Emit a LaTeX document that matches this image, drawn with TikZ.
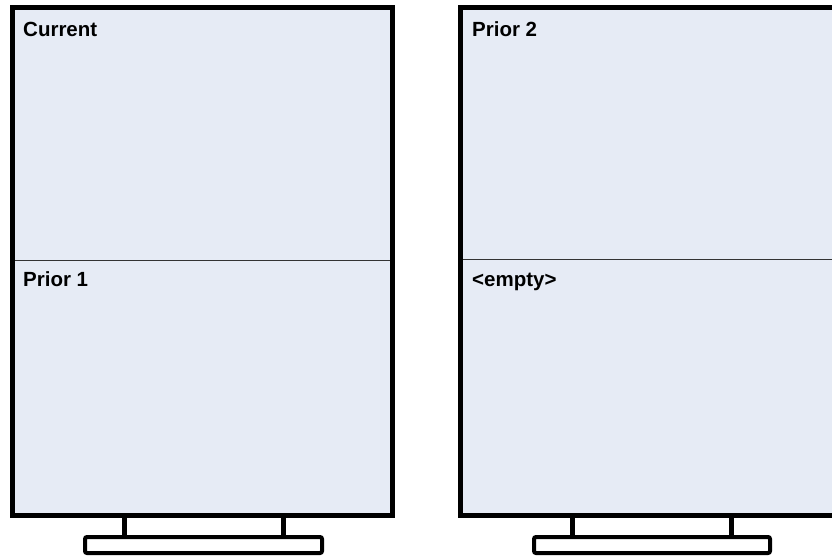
\documentclass[tikz,border=0pt]{standalone}
\usepackage{fontspec}
\setmainfont{Liberation Sans}
\definecolor{screen}{RGB}{230,235,245}
\tikzset{
  monitor/.style={draw=black, fill=screen, line width=5pt},
  divider/.style={draw=black!80, line width=1.6pt},
  leg/.style={draw=black, line width=5pt},
  standbase/.style={draw=black, fill=white, line width=4pt, rounded corners=2pt},
  lbl/.style={anchor=base west, inner sep=0pt, font=\fontsize{20.5}{24}\selectfont\bfseries}
}
\begin{document}
\begin{tikzpicture}[x=1pt,y=-1pt]
\useasboundingbox (0,0) rectangle (832,556);
\clip (0,0) rectangle (832,556);
\fill[white] (0,0) rectangle (832,556);
% left monitor
\draw[monitor] (12.5,7.5) rectangle (392.5,515.5);
\draw[divider] (15,260.5) -- (390,260.5);
\draw[leg] (124.5,518) -- (124.5,537);
\draw[leg] (283.5,518) -- (283.5,537);
\draw[standbase] (85,537) rectangle (322,553);
% right monitor
\draw[monitor] (460.5,7.5) rectangle (845,515.5);
\draw[divider] (463,259.5) -- (832,259.5);
\draw[leg] (572.5,518) -- (572.5,537);
\draw[leg] (731,518) -- (731,537);
\draw[standbase] (534,537) rectangle (770,553);
% labels
\node[lbl] (cur) at (23,37) {Current};
\node[lbl] (p1) at (23,286) {Prior 1};
\node[lbl] (p2) at (472,37) {Prior 2};
\node[lbl] (emp) at (472,286) {<empty>};
\end{tikzpicture}
\end{document}
